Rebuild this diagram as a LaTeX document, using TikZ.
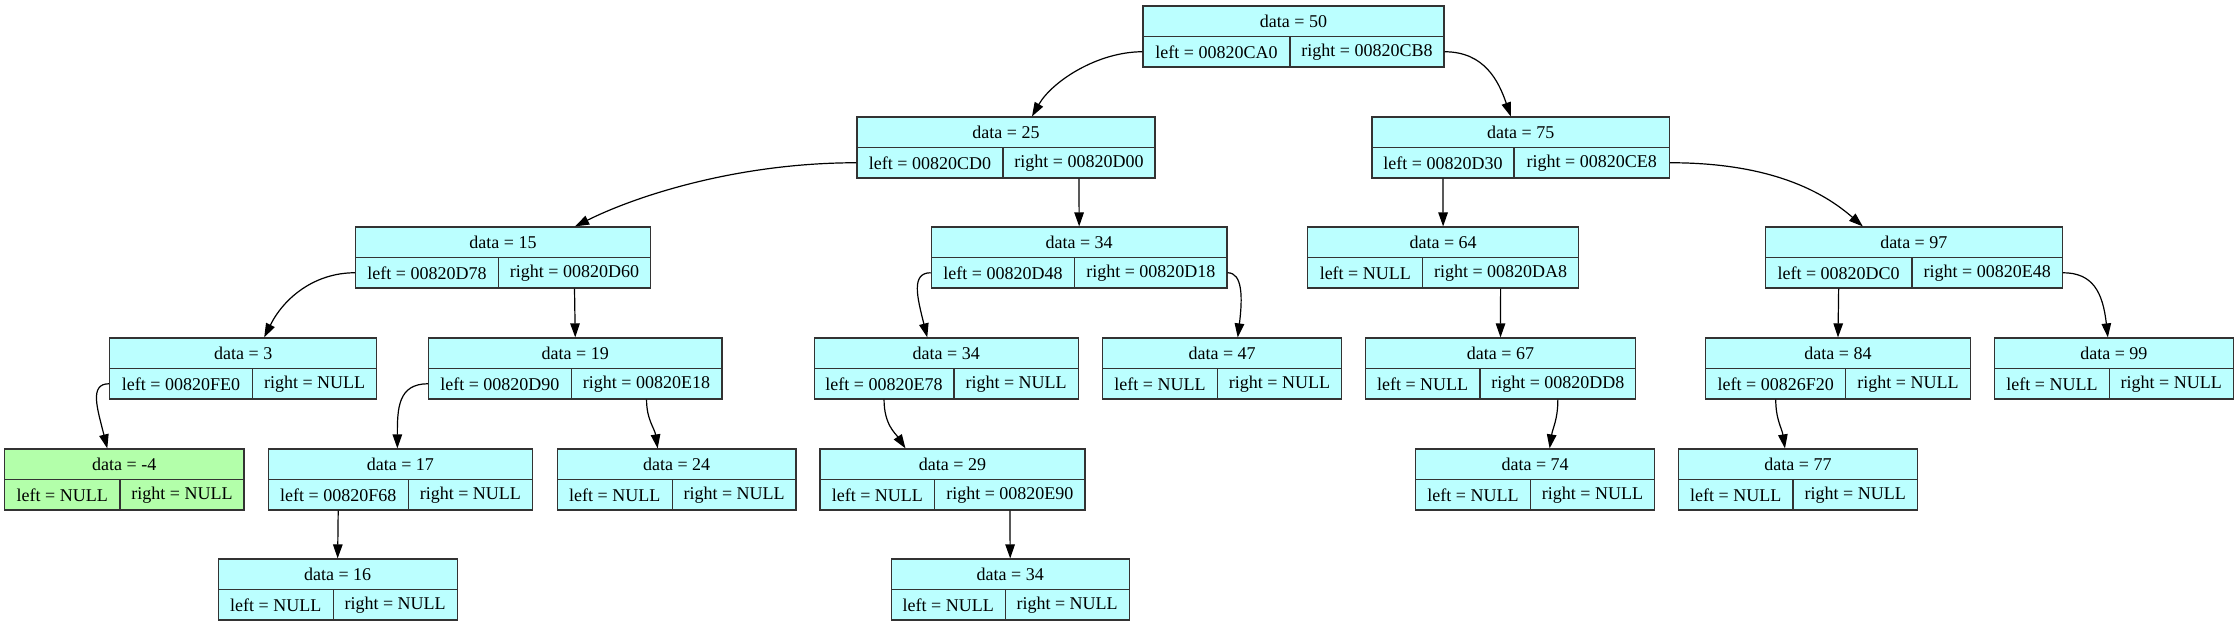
\documentclass[tikz,border=0pt]{standalone}
\usepackage{fontspec}
\setmainfont{Liberation Serif}
\usetikzlibrary{arrows.meta}

\definecolor{recfill}{HTML}{BBFFFF}
\definecolor{leaffill}{HTML}{B3FFAA}

\tikzset{
  cell/.style={draw=black!80, line width=1.2pt, minimum height=30.5pt, inner sep=0pt,
    font=\fontsize{18}{20}\selectfont},
  link/.style={-{Triangle[length=14pt,width=9.5pt]}, line width=1.2pt}
}

% [fill] name, x_left, x_div, x_right, y_top, data, left, right
\newcommand{\recnode}[9][recfill]{
    \node[cell, fill=#1, minimum width={#5-#3}] (#2) at ({(#3+#5)/2}, {#6+15.25}) {data = #7};
    \node[cell, fill=#1, minimum width={#4-#3}] (#2l) at ({(#3+#4)/2}, {#6+45.75}) {left = #8};
    \node[cell, fill=#1, minimum width={#5-#4}] (#2r) at ({(#4+#5)/2}, {#6+45.75}) {right = #9};
}

\begin{document}
\begin{tikzpicture}[x=1pt, y=-1pt]
  \useasboundingbox (0,0) rectangle (2239,627);

  \recnode{n50}{1143}{1290}{1444}{6}{50}{00820CA0}{00820CB8}

  \recnode{n25}{857}{1003}{1155}{117}{25}{00820CD0}{00820D00}
  \recnode{n75}{1372}{1514}{1669.5}{117}{75}{00820D30}{00820CE8}

  \recnode{n15}{355.5}{498.4}{650.6}{227}{15}{00820D78}{00820D60}
  \recnode{n34a}{931.3}{1074.8}{1227}{227}{34}{00820D48}{00820D18}
  \recnode{n64}{1307.8}{1422.8}{1578.4}{227}{64}{NULL}{00820DA8}
  \recnode{n97}{1765.3}{1912}{2062.3}{227}{97}{00820DC0}{00820E48}

  \recnode{n3}{109.6}{252.5}{376.8}{338}{3}{00820FE0}{NULL}
  \recnode{n19}{428.6}{571.2}{721.9}{338}{19}{00820D90}{00820E18}
  \recnode{n34b}{814.2}{953.9}{1078.3}{338}{34}{00820E78}{NULL}
  \recnode{n47}{1102.6}{1217.3}{1341.6}{338}{47}{NULL}{NULL}
  \recnode{n67}{1365.3}{1480}{1635.7}{338}{67}{NULL}{00820DD8}
  \recnode{n84}{1705.8}{1845.7}{1970.2}{338}{84}{00826F20}{NULL}
  \recnode{n99}{1994.6}{2109.4}{2233.1}{338}{99}{NULL}{NULL}

  \recnode[leaffill]{nm4}{4.6}{120}{244}{449}{-4}{NULL}{NULL}
  \recnode{n17}{268.2}{408.2}{532.5}{449}{17}{00820F68}{NULL}
  \recnode{n24}{557.3}{672.2}{796}{449}{24}{NULL}{NULL}
  \recnode{n29}{820}{934.8}{1085}{449}{29}{NULL}{00820E90}
  \recnode{n74}{1415.6}{1530.3}{1654.6}{449}{74}{NULL}{NULL}
  \recnode{n77}{1678.5}{1793}{1917.4}{449}{77}{NULL}{NULL}

  \recnode{n16}{218.2}{333.2}{457.1}{559}{16}{NULL}{NULL}
  \recnode{n34c}{891.3}{1005.2}{1129.1}{559}{34}{NULL}{NULL}

  % pointers
  \draw[link] (n50l.west) .. controls +(-45,0) and +(20,-35) .. ([xshift=26pt]n25.north);
  \draw[link] (n50r.east) .. controls +(40,0) and +(-12,-35) .. ([xshift=-10pt]n75.north);

  \draw[link] (n25l.west) .. controls +(-120,0) and +(60,-30) .. ([xshift=72pt]n15.north);
  \draw[link] (n25r.south) -- (n34a.north);
  \draw[link] (n75l.south) -- (n64.north);
  \draw[link] (n75r.east) .. controls +(100,0) and +(-40,-35) .. ([xshift=-51pt]n97.north);

  \draw[link] (n15l.west) .. controls +(-40,0) and +(20,-40) .. ([xshift=21pt]n3.north);
  \draw[link] (n15r.south) -- (n19.north);
  \draw[link] (n34al.west) .. controls +(-20,0) and +(-10,-40) .. ([xshift=-19pt]n34b.north);
  \draw[link] (n34ar.east) .. controls +(15,0) and +(5,-40) .. ([xshift=15.6pt]n47.north);
  \draw[link] (n64r.south) -- (n67.north);
  \draw[link] (n97l.south) -- (n84.north);
  \draw[link] (n97r.east) .. controls +(30,0) and +(-5,-45) .. ([xshift=-6pt]n99.north);

  \draw[link] (n3l.west) .. controls +(-20,0) and +(-10,-40) .. ([xshift=-17pt]nm4.north);
  \draw[link] (n19l.west) .. controls +(-30,0) and +(0,-40) .. ([xshift=-3pt]n17.north);
  \draw[link] (n19r.south) .. controls +(0,20) and +(-3,-20) .. ([xshift=-19pt]n24.north);
  \draw[link] (n34bl.south) .. controls +(0,25) and +(-10,-15) .. ([xshift=-47pt]n29.north);
  \draw[link] (n67r.south) .. controls +(0,20) and +(3,-20) .. ([xshift=14.5pt]n74.north);
  \draw[link] (n84l.south) .. controls +(0,20) and +(-3,-20) .. ([xshift=-13pt]n77.north);

  \draw[link] (n17l.south) -- (n16.north);
  \draw[link] (n29r.south) -- (n34c.north);

\end{tikzpicture}
\end{document}
